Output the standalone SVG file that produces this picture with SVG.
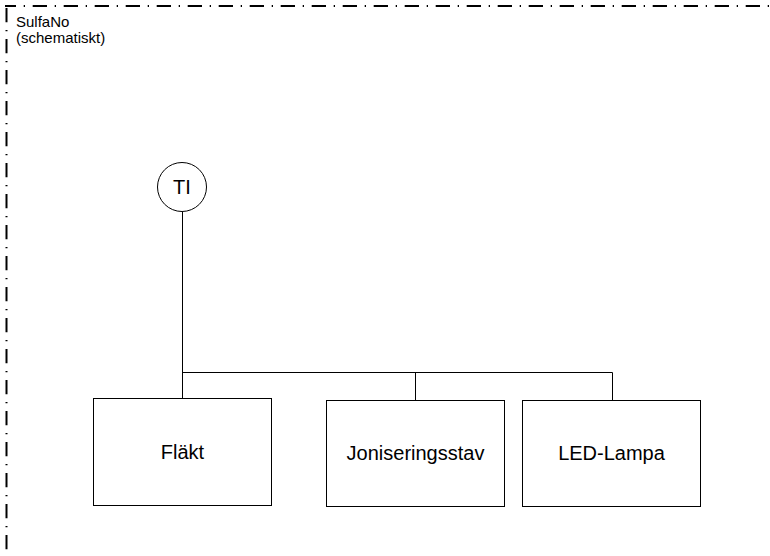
<svg xmlns="http://www.w3.org/2000/svg" width="770" height="556" viewBox="0 0 770 556">
<style>
.frame{fill:none;stroke:#000;stroke-width:2;stroke-dasharray:14.3 7.7 1.3 7.7}
.box{fill:#fff;stroke:#000;stroke-width:1}
.wire{fill:none;stroke:#000;stroke-width:1}
.lbl{font-family:"Liberation Sans",Arial,sans-serif;font-size:20px;fill:#000;text-anchor:middle}
.title{font-family:"Liberation Sans",Arial,sans-serif;font-size:15px;fill:#000}
</style>
<rect width="770" height="556" fill="#fff"/>
<g id="frame">
<line class="frame" x1="5" y1="6" x2="770" y2="6" stroke-dashoffset="3.3"/>
<line class="frame" x1="6.5" y1="8" x2="6.5" y2="556"/>
<text class="title" x="16" y="27">SulfaNo</text>
<text class="title" x="16" y="43">(schematiskt)</text>
</g>
<g id="connectors">
<path class="wire" d="M182.5 212V398"/>
<path class="wire" d="M182.5 372.5H612.5V400"/>
<path class="wire" d="M415.5 372.5V400"/>
</g>
<g id="TI">
<circle class="box" cx="182" cy="187" r="24.5"/>
<text class="lbl" x="182" y="194">TI</text>
</g>
<g id="flakt">
<rect class="box" x="93.5" y="398.5" width="178" height="107"/>
<text class="lbl" x="182.5" y="459">Fläkt</text>
</g>
<g id="joniseringsstav">
<rect class="box" x="326.5" y="400.5" width="178" height="106"/>
<text class="lbl" x="415.5" y="460">Joniseringsstav</text>
</g>
<g id="led-lampa">
<rect class="box" x="522.5" y="400.5" width="178" height="106"/>
<text class="lbl" x="611.5" y="460">LED-Lampa</text>
</g>
</svg>
